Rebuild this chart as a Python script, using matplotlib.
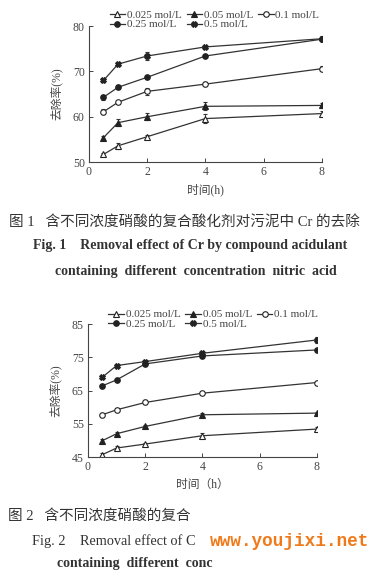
import numpy as np
import matplotlib
matplotlib.use('Agg')
import matplotlib.pyplot as plt
from matplotlib.lines import Line2D

plt.rcParams['font.family'] = ['Liberation Serif', 'Noto Sans CJK SC']
plt.rcParams['axes.unicode_minus'] = False

# 数据
times = [0.5, 1, 2, 4, 8]
labels = ['0.025 mol/L', '0.05 mol/L', '0.1 mol/L', '0.25 mol/L', '0.5 mol/L']

fig1_vals = [
    [51.7, 53.6, 55.6, 59.6, 60.7],
    [55.4, 58.7, 60.0, 62.3, 62.5],
    [61.1, 63.2, 65.6, 67.2, 70.6],
    [64.3, 66.5, 68.7, 73.4, 77.1],
    [68.0, 71.6, 73.4, 75.4, 77.2],
]
fig1_err = [
    [0.3, 0.6, 0.4, 0.9, 0.5],
    [0.3, 0.7, 0.8, 0.9, 0.6],
    [0.6, 0.3, 0.8, 0.4, 0.5],
    [0.6, 0.4, 0.3, 0.3, 0.4],
    [0.4, 0.3, 0.8, 0.3, 0.6],
]
fig2_vals = [
    [45.7, 47.7, 48.9, 51.4, 53.4],
    [49.9, 52.0, 54.2, 57.7, 58.2],
    [57.7, 59.2, 61.4, 64.2, 67.4],
    [66.4, 68.2, 73.0, 75.4, 77.2],
    [69.0, 72.5, 73.7, 76.2, 80.2],
]
fig2_err = [
    [0.4, 0.5, 0.4, 0.8, 0.7],
    [0.4, 0.6, 0.5, 0.4, 0.4],
    [0.5, 0.4, 0.6, 0.4, 0.5],
    [0.5, 0.4, 0.4, 0.3, 0.4],
    [0.5, 0.4, 0.5, 0.4, 0.8],
]

# 样式
markers = ['^', '^', 'o', 'o', 'X']
fills = ['white', '#222222', 'white', '#222222', '#222222']
line_c = '#333333'
txt_c = '#444444'


def draw_panel(ax, vals, errs, ylim, yticks, xlabel, leg_top, xl_pad):
    handles = []
    for v, e, m, f, lab in zip(vals, errs, markers, fills, labels):
        ax.errorbar(times, v, yerr=e, color=line_c, lw=0.9, marker=m, ms=4,
                    mfc=f, mec='#222222', mew=0.8, capsize=1.5, elinewidth=0.7)
        handles.append(Line2D([], [], color=line_c, lw=0.9, marker=m, ms=4,
                              mfc=f, mec='#222222', mew=0.8, label=lab))
    ax.set_xlim(0, 8)
    ax.set_ylim(*ylim)
    ax.set_xticks([0, 2, 4, 6, 8])
    ax.set_yticks(yticks)
    ax.spines['top'].set_visible(False)
    ax.spines['right'].set_visible(False)
    for s in ax.spines.values():
        s.set_color(txt_c)
        s.set_linewidth(0.8)
    ax.tick_params(direction='in', length=3, width=0.7, labelsize=8.5,
                   colors=txt_c, pad=3)
    ax.set_ylabel('去除率(%)', fontsize=8.5, color=txt_c, labelpad=7)
    ax.set_xlabel(xlabel, fontsize=8.5, color=txt_c, labelpad=xl_pad)
    order = [0, 3, 1, 4, 2]
    ax.legend([handles[i] for i in order], [labels[i] for i in order], ncol=3,
              loc='upper left', bbox_to_anchor=(0.065, leg_top), frameon=False,
              fontsize=8, handlelength=1.4, handletextpad=0.15,
              columnspacing=0.45, labelspacing=0.0, borderpad=0,
              labelcolor=txt_c)


fig = plt.figure(figsize=(3.9, 5.79), dpi=100)

ax1 = fig.add_axes([0.228, 0.720, 0.597, 0.235])
draw_panel(ax1, fig1_vals, fig1_err, (50, 80), [50, 60, 70, 80], '时间(h)', 1.16, 3.5)

ax2 = fig.add_axes([0.2256, 0.2107, 0.587, 0.2297])
draw_panel(ax2, fig2_vals, fig2_err, (45, 85), [45, 55, 65, 75, 85], '时间（h）', 1.15, 4)

tc = '#333333'
fig.text(0.022, 1 - 222 / 579, '图 1   含不同浓度硝酸的复合酸化剂对污泥中 Cr 的去除',
         fontsize=10.5, color=tc, va='center')
fig.text(0.085, 1 - 245 / 579, 'Fig. 1    Removal effect of Cr by compound acidulant',
         fontsize=10, fontweight='bold', color=tc, va='center')
fig.text(0.14, 1 - 271 / 579, 'containing  different  concentration  nitric  acid',
         fontsize=10, fontweight='bold', color=tc, va='center')

# 图2 题注被水印截断
fig.text(0.02, 1 - 516 / 579, '图 2   含不同浓度硝酸的复合',
         fontsize=10.5, color=tc, va='center')
fig.text(0.082, 1 - 541 / 579, 'Fig. 2    Removal effect of C',
         fontsize=10.3, color=tc, va='center')
fig.text(0.145, 1 - 563 / 579, 'containing  different  conc',
         fontsize=10, fontweight='bold', color=tc, va='center')

fig.text(0.538, 1 - 541 / 579, 'www.youjixi.net', fontsize=12.8, fontweight='bold',
         color='#f07a1a', va='center', family='Liberation Mono')

fig.savefig('out.png', dpi=100, facecolor='white')
